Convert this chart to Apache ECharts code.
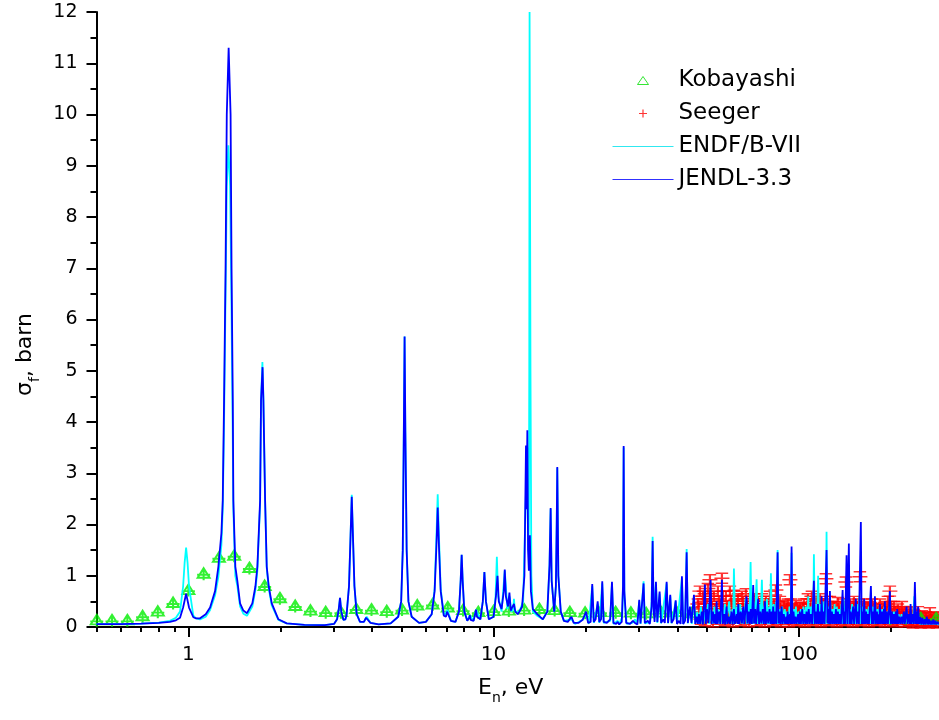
<!DOCTYPE html>
<html>
<head>
<meta charset="utf-8">
<script src="https://cdn.jsdelivr.net/npm/echarts@6/dist/echarts.min.js"></script>
<style>
  html, body { margin: 0; padding: 0; background: #fff; }
  #chart { width: 939px; height: 720px; }
</style>
</head>
<body>
<div id="chart"></div>
<script>
  // axis ticks
  const xMajorTicks = [1, 10, 100];
  const xMinorTicks = [0.5, 0.6, 0.7, 0.8, 0.9, 2, 3, 4, 5, 6, 7, 8, 9, 20, 30, 40, 50, 60, 70, 80, 90, 200];

  // Kobayashi: [E (eV), sigma_f (barn)]
  const kobayashi = [
    [0.501, 0.12], [0.562, 0.12], [0.631, 0.12], [0.708, 0.2], [0.794, 0.29], [0.891, 0.46],
    [1.0, 0.71], [1.122, 1.03], [1.259, 1.34], [1.413, 1.38], [1.585, 1.14], [1.778, 0.79],
    [1.995, 0.55], [2.239, 0.4], [2.512, 0.31], [2.818, 0.28], [3.162, 0.28], [3.548, 0.34],
    [3.981, 0.33], [4.467, 0.3], [5.012, 0.33], [5.623, 0.41], [6.31, 0.43], [7.079, 0.37],
    [7.943, 0.32], [8.913, 0.28], [10.0, 0.3], [11.22, 0.31], [12.59, 0.33], [14.13, 0.34],
    [15.85, 0.32], [17.78, 0.28], [19.95, 0.27], [22.39, 0.28], [25.12, 0.28], [28.18, 0.27],
    [31.62, 0.26], [35.48, 0.27], [39.81, 0.28], [44.67, 0.26], [50.12, 0.24], [56.23, 0.21],
    [63.1, 0.2], [70.79, 0.19], [79.43, 0.18], [89.13, 0.18], [100.0, 0.17], [112.2, 0.17],
    [125.9, 0.17], [141.3, 0.17], [158.5, 0.17], [177.8, 0.17], [199.5, 0.16], [223.9, 0.16],
    [251.2, 0.16], [281.8, 0.16]
  ];

  // Seeger: [E (eV), sigma_f (barn)]
  const seeger = [
    [46.72, 0.45], [47.43, 0.7], [47.8, 0.15], [48.15, 0.3], [48.88, 0.55], [49.26, 0.12], [49.63, 0.2],
    [50.38, 0.75], [50.76, 0.18], [51.15, 0.92], [51.92, 0.4], [52.3, 0.1], [52.71, 0.6], [53.5, 0.25],
    [53.9, 0.15], [54.33, 0.7], [55.15, 0.45], [55.6, 0.2], [56.0, 0.95], [56.84, 0.35], [57.3, 0.12],
    [57.71, 0.6], [58.59, 0.2], [59.0, 0.15], [59.47, 0.7], [60.38, 0.4], [60.8, 0.1], [61.29, 0.62],
    [62.23, 0.3], [62.7, 0.2], [63.17, 0.55], [64.13, 0.18], [64.6, 0.12], [65.1, 0.6], [66.1, 0.35],
    [66.6, 0.15], [67.09, 0.65], [68.12, 0.25], [68.6, 0.1], [69.15, 0.5], [70.21, 0.3], [70.7, 0.18],
    [71.29, 0.55], [72.36, 0.2], [72.9, 0.12], [73.46, 0.5], [74.58, 0.35], [75.1, 0.15], [75.72, 0.55],
    [76.86, 0.25], [77.4, 0.1], [78.04, 0.5], [79.22, 0.3], [79.8, 0.16], [80.43, 0.6], [81.65, 0.2],
    [82.3, 0.12], [82.89, 0.45], [84.14, 0.72], [84.8, 0.15], [85.43, 0.3], [86.73, 0.5], [87.4, 0.1],
    [88.05, 0.2], [89.38, 0.42], [90.1, 0.14], [90.75, 0.3], [92.12, 0.45], [92.8, 0.1], [93.52, 0.92],
    [94.94, 0.35], [95.7, 0.15], [96.39, 0.25], [97.84, 0.42], [98.6, 0.12], [99.33, 0.2], [100.83, 0.38],
    [101.6, 0.14], [102.38, 0.3], [103.92, 0.45], [104.7, 0.1], [105.51, 0.2], [107.11, 0.55], [107.9, 0.15],
    [108.74, 0.35], [110.4, 0.6], [111.2, 0.12], [112.07, 0.25], [113.77, 0.5], [114.6, 0.15], [115.51, 0.3],
    [117.26, 0.55], [118.2, 0.1], [119.05, 0.2], [120.86, 0.45], [121.8, 0.14], [122.71, 0.94], [124.57, 0.35],
    [125.5, 0.12], [126.47, 0.5], [128.41, 0.22], [129.4, 0.15], [130.32, 0.4], [132.31, 0.3], [133.3, 0.1],
    [134.31, 0.48], [136.37, 0.2], [137.4, 0.14], [138.43, 0.4], [140.54, 0.3], [141.6, 0.12], [142.67, 0.88],
    [144.85, 0.25], [145.9, 0.15], [147.04, 0.45], [149.28, 0.3], [150.4, 0.1], [151.55, 0.5], [153.87, 0.2],
    [155.0, 0.14], [156.19, 0.4], [158.58, 0.98], [159.8, 0.12], [160.98, 0.3], [163.44, 0.45], [164.7, 0.15],
    [165.92, 0.2], [168.45, 0.4], [169.7, 0.1], [171.0, 0.3], [173.62, 0.45], [174.9, 0.14], [176.23, 0.2],
    [178.93, 0.35], [180.3, 0.12], [181.63, 0.25], [184.41, 0.45], [185.8, 0.15], [187.2, 0.2], [190.05, 0.38],
    [191.5, 0.1], [192.92, 0.3], [195.87, 0.5], [197.3, 0.14], [198.83, 0.7], [201.84, 0.25], [203.4, 0.12],
    [204.89, 0.4], [208.02, 0.2], [209.6, 0.1], [211.17, 0.35], [214.39, 0.25], [216.0, 0.14], [217.63, 0.4],
    [220.96, 0.18], [222.6, 0.1], [224.33, 0.3], [227.72, 0.15], [229.5, 0.12], [231.21, 0.28], [234.7, 0.12],
    [236.5, 0.08], [238.28, 0.25], [241.88, 0.15], [243.7, 0.12], [245.58, 0.3], [249.29, 0.12], [251.2, 0.08],
    [253.11, 0.22], [256.93, 0.1], [258.9, 0.12], [260.86, 0.2], [264.8, 0.12], [266.8, 0.08], [268.85, 0.28],
    [272.9, 0.1], [275.0, 0.12], [277.08, 0.2], [281.27, 0.12], [283.4, 0.08], [285.56, 0.18],
    [47.08, 0.38], [48.52, 0.6], [50.0, 0.45], [51.53, 0.55], [53.11, 0.35], [54.73, 0.5], [56.41, 0.6],
    [58.13, 0.4], [59.91, 0.5], [61.75, 0.45], [63.64, 0.35], [65.59, 0.5], [67.61, 0.4], [69.67, 0.35],
    [71.81, 0.42], [74.01, 0.3], [76.28, 0.4], [78.61, 0.38], [81.02, 0.45], [83.5, 0.35], [86.05, 0.4],
    [88.69, 0.32], [91.41, 0.38], [94.21, 0.45], [97.1, 0.32], [100.07, 0.3], [103.13, 0.38], [106.29, 0.35],
    [109.55, 0.45], [112.9, 0.4], [116.36, 0.42], [119.93, 0.35], [123.6, 0.5], [127.39, 0.38], [131.29, 0.35],
    [135.31, 0.32], [139.46, 0.45], [143.73, 0.4], [148.13, 0.35], [152.67, 0.38], [157.35, 0.45], [162.17, 0.38],
    [167.13, 0.32], [172.25, 0.38], [177.53, 0.3], [182.97, 0.32], [188.57, 0.28], [194.35, 0.35], [200.3, 0.4],
    [206.44, 0.3], [212.76, 0.28], [219.28, 0.25], [225.99, 0.22], [232.92, 0.2], [240.05, 0.22], [247.4, 0.18],
    [254.98, 0.16], [262.79, 0.15], [270.84, 0.18], [279.13, 0.14]
  ];

  // ENDF/B-VII: [E (eV), sigma_f (barn)]
  const endf = [
    [0.5, 0.055], [0.6, 0.058], [0.7, 0.066], [0.8, 0.085], [0.87, 0.12], [0.91, 0.18], [0.939, 0.3],
    [0.961, 0.79], [0.972, 1.25], [0.983, 1.55], [0.994, 1.25], [1.005, 0.79], [1.038, 0.22], [1.06, 0.17],
    [1.092, 0.15], [1.14, 0.2], [1.178, 0.33], [1.223, 0.62], [1.254, 0.98], [1.283, 1.6], [1.296, 2.3],
    [1.309, 4.0], [1.324, 6.5], [1.336, 8.6], [1.352, 9.4], [1.37, 8.6], [1.383, 6.5], [1.396, 4.0],
    [1.404, 2.3], [1.425, 1.0], [1.447, 0.8], [1.477, 0.4], [1.514, 0.26], [1.556, 0.22], [1.62, 0.4],
    [1.658, 0.72], [1.683, 1.1], [1.718, 2.4], [1.73, 4.42], [1.748, 5.17], [1.761, 4.5], [1.784, 2.47],
    [1.806, 1.15], [1.834, 0.75], [1.876, 0.42], [1.972, 0.14], [2.1, 0.07], [2.4, 0.04], [2.8, 0.035],
    [3.0, 0.06], [3.07, 0.15], [3.11, 0.35], [3.139, 0.57], [3.17, 0.3], [3.22, 0.14], [3.27, 0.15],
    [3.3, 0.25], [3.36, 0.8], [3.4, 1.8], [3.43, 2.58], [3.46, 1.8], [3.5, 0.8], [3.56, 0.25], [3.65, 0.1],
    [3.76, 0.1], [3.84, 0.2], [3.95, 0.08], [4.2, 0.05], [4.6, 0.07], [4.87, 0.2], [4.98, 0.5], [5.04, 1.5],
    [5.08, 3.8], [5.11, 5.67], [5.14, 3.8], [5.19, 1.5], [5.26, 0.5], [5.39, 0.2], [5.7, 0.08], [6.0, 0.1],
    [6.27, 0.25], [6.41, 0.75], [6.5, 1.8], [6.56, 2.59], [6.62, 1.8], [6.71, 0.75], [6.87, 0.22],
    [7.07, 0.33], [7.25, 0.12], [7.5, 0.1], [7.7, 0.3], [7.8, 0.9], [7.86, 1.41], [7.92, 0.9], [8.02, 0.3],
    [8.2, 0.12], [8.36, 0.23], [8.6, 0.12], [8.76, 0.34], [9.05, 0.15], [9.22, 0.5], [9.33, 1.07],
    [9.44, 0.5], [9.65, 0.15], [10.0, 0.2], [10.15, 0.6], [10.25, 1.37], [10.35, 0.6], [10.62, 0.3],
    [10.88, 1.1], [11.1, 0.35], [11.27, 0.6], [11.45, 0.3], [11.6, 0.35], [11.66, 0.55], [11.75, 0.3],
    [12.15, 0.3], [12.5, 0.5], [12.75, 2.5], [12.9, 3.5], [13.0, 1.5], [13.05, 2.0], [13.09, 5.0],
    [13.12, 12], [13.18, 12], [13.21, 5.0], [13.3, 1.0], [13.45, 0.3], [13.9, 0.22], [14.5, 0.15],
    [15.0, 0.3], [15.25, 1.2], [15.38, 2.3], [15.5, 0.9], [15.8, 0.3], [16.0, 0.8], [16.1, 2.0],
    [16.17, 3.1], [16.3, 1.0], [16.6, 0.3], [17.0, 0.12], [18.0, 0.15], [18.5, 0.06], [19.58, 0.14],
    [20.1, 0.25], [20.5, 0.06], [21.05, 0.8], [21.3, 0.08], [21.93, 0.45], [22.2, 0.08], [22.7, 0.85],
    [22.95, 0.08], [24.1, 0.12], [24.43, 0.85], [24.7, 0.06], [25.5, 0.12], [25.8, 0.05], [26.4, 0.2],
    [26.55, 0.8], [26.68, 3.5], [26.82, 0.6], [27.3, 0.06], [28.5, 0.08], [29.05, 0.15], [29.5, 0.05],
    [30.01, 0.5], [30.3, 0.06], [31.01, 0.89], [31.3, 0.07], [32.6, 0.1], [32.95, 0.5], [33.2, 1.76],
    [33.45, 0.25], [34.04, 0.85], [34.4, 0.08], [34.99, 0.65], [35.4, 0.07], [36.9, 0.85], [37.3, 0.07],
    [37.92, 0.6], [38.3, 0.07], [39.5, 0.5], [39.9, 0.06], [41.41, 0.95], [41.8, 0.06], [42.5, 0.2],
    [42.91, 1.52], [43.3, 0.07], [44.0, 0.35], [44.6, 0.06], [45.34, 0.6], [45.8, 0.06], [46.5, 0.3],
    [47.0, 0.06], [47.8, 0.4], [48.3, 0.06], [49.0, 0.3], [49.5, 0.06], [50.4, 0.45], [50.9, 0.06],
    [51.7, 0.35], [52.2, 0.06], [52.9, 0.4], [53.4, 0.06], [54.5, 0.35], [55.0, 0.06], [55.6, 0.4],
    [56.2, 0.06], [57.3, 0.45], [57.8, 0.06], [59.16, 0.5], [59.8, 0.06], [60.6, 0.35], [60.9, 0.06],
    [61.3, 1.14], [61.9, 0.06], [62.7, 0.4], [63.3, 0.06], [64.3, 0.45], [64.9, 0.06], [65.5, 0.35],
    [66.2, 0.06], [66.9, 0.55], [67.6, 0.06], [68.3, 0.45], [68.9, 0.06], [69.52, 1.27], [70.1, 0.06],
    [71.0, 0.5], [71.7, 0.06], [72.74, 0.93], [73.3, 0.06], [74.2, 0.45], [74.9, 0.06], [75.7, 0.92],
    [76.3, 0.06], [77.0, 0.4], [77.8, 0.06], [78.6, 0.55], [79.3, 0.06], [80.0, 0.4], [80.5, 0.06],
    [81.03, 1.05], [81.7, 0.06], [82.8, 0.45], [83.5, 0.06], [84.3, 0.5], [84.8, 0.06], [85.23, 1.5],
    [85.9, 0.06], [86.8, 0.35], [87.5, 0.06], [88.3, 0.4], [89.0, 0.06], [90.0, 0.35], [90.8, 0.06],
    [91.5, 0.3], [92.3, 0.06], [93.2, 0.4], [94.0, 0.06], [94.7, 1.45], [95.4, 0.06], [96.5, 0.35],
    [97.2, 0.06], [97.84, 0.4], [98.6, 0.06], [99.8, 0.3], [100.6, 0.06], [101.5, 0.35], [102.3, 0.06],
    [103.5, 0.4], [104.3, 0.06], [105.5, 0.4], [106.3, 0.06], [107.4, 0.6], [108.2, 0.06], [109.3, 0.4],
    [110.2, 0.06], [111.0, 0.5], [111.5, 0.06], [112.07, 1.42], [112.9, 0.06], [113.6, 0.45], [114.6, 0.06],
    [115.7, 1.0], [116.6, 0.06], [117.5, 0.45], [118.4, 0.06], [119.2, 0.5], [120.0, 0.06], [121.2, 0.5],
    [122.0, 0.06], [122.9, 0.8], [123.3, 1.86], [124.0, 0.06], [125.0, 0.4], [125.8, 0.06], [126.8, 0.5],
    [127.8, 0.06], [129.0, 0.35], [130.0, 0.06], [131.0, 0.45], [132.0, 0.06], [133.2, 0.4], [134.2, 0.06],
    [135.5, 0.35], [136.5, 0.06], [138.0, 0.45], [139.0, 0.06], [140.3, 0.55], [141.3, 0.06], [142.2, 0.4],
    [143.2, 0.06], [144.4, 0.5], [145.4, 0.06], [146.8, 0.35], [148.0, 0.06], [149.5, 0.45], [150.7, 0.06],
    [152.2, 0.4], [153.4, 0.06], [155.0, 0.45], [156.3, 0.06], [158.0, 0.6], [159.3, 0.06], [161.0, 0.4],
    [162.2, 0.06], [163.5, 0.45], [164.8, 0.06], [166.5, 0.35], [167.8, 0.06], [169.5, 0.4], [170.8, 0.06],
    [171.8, 0.55], [173.0, 0.06], [175.0, 0.4], [176.3, 0.06], [178.0, 0.45], [179.4, 0.06], [181.0, 0.35],
    [182.4, 0.06], [184.0, 0.4], [185.5, 0.06], [187.5, 0.35], [189.0, 0.06], [190.6, 0.4], [192.2, 0.06],
    [194.0, 0.3], [195.6, 0.06], [197.5, 0.4], [199.2, 0.06], [201.0, 0.3], [202.6, 0.06], [205.0, 0.3],
    [206.8, 0.06], [208.8, 0.3], [210.5, 0.06], [212.5, 0.25], [214.3, 0.06], [217.1, 0.25], [219.0, 0.06],
    [221.5, 0.2], [223.4, 0.06], [225.8, 0.3], [227.6, 0.06], [230.0, 0.2], [232.0, 0.06], [234.5, 0.25],
    [236.5, 0.06], [239.0, 0.6], [241.0, 0.06], [243.0, 0.3], [245.0, 0.06], [247.5, 0.2], [249.6, 0.05],
    [252.0, 0.15], [254.3, 0.05], [257.0, 0.15], [259.3, 0.05], [261.6, 0.12], [264.0, 0.05], [266.5, 0.12],
    [268.8, 0.05], [271.5, 0.1], [274.0, 0.05], [276.5, 0.1], [279.0, 0.05], [281.5, 0.1], [284.0, 0.05],
    [288.0, 0.05]
  ];

  // JENDL-3.3: [E (eV), sigma_f (barn)]
  const jendl = [
    [0.5, 0.055], [0.6, 0.058], [0.7, 0.065], [0.8, 0.08], [0.87, 0.1], [0.91, 0.13], [0.939, 0.18],
    [0.961, 0.38], [0.983, 0.65], [1.005, 0.38], [1.038, 0.19], [1.06, 0.17], [1.092, 0.17], [1.14, 0.25],
    [1.178, 0.38], [1.223, 0.7], [1.254, 1.18], [1.283, 1.83], [1.296, 2.47], [1.309, 4.42], [1.324, 7.0],
    [1.336, 10.0], [1.355, 11.3], [1.375, 10.0], [1.385, 7.0], [1.398, 4.42], [1.404, 2.47], [1.425, 1.18],
    [1.447, 0.9], [1.477, 0.46], [1.514, 0.32], [1.556, 0.27], [1.62, 0.46], [1.658, 0.79], [1.683, 1.18],
    [1.718, 2.47], [1.73, 4.42], [1.75, 5.07], [1.761, 4.42], [1.784, 2.47], [1.806, 1.18], [1.834, 0.79],
    [1.876, 0.46], [1.972, 0.15], [2.1, 0.07], [2.4, 0.04], [2.8, 0.035], [3.0, 0.06], [3.07, 0.15],
    [3.11, 0.35], [3.139, 0.57], [3.17, 0.3], [3.22, 0.14], [3.27, 0.15], [3.3, 0.25], [3.36, 0.8],
    [3.4, 1.8], [3.43, 2.54], [3.46, 1.8], [3.5, 0.8], [3.56, 0.25], [3.65, 0.1], [3.76, 0.1], [3.82, 0.18],
    [3.84, 0.2], [3.87, 0.17], [3.95, 0.08], [4.2, 0.05], [4.6, 0.07], [4.87, 0.2], [4.98, 0.5], [5.04, 1.5],
    [5.08, 3.8], [5.11, 5.67], [5.14, 3.8], [5.19, 1.5], [5.26, 0.5], [5.39, 0.2], [5.7, 0.08], [6.0, 0.1],
    [6.27, 0.25], [6.41, 0.7], [6.5, 1.6], [6.56, 2.33], [6.62, 1.6], [6.71, 0.7], [6.87, 0.22], [6.98, 0.2],
    [7.04, 0.3], [7.07, 0.33], [7.11, 0.28], [7.25, 0.12], [7.5, 0.1], [7.7, 0.3], [7.8, 0.9], [7.86, 1.41],
    [7.92, 0.9], [8.02, 0.3], [8.2, 0.12], [8.32, 0.18], [8.36, 0.23], [8.41, 0.14], [8.6, 0.12], [8.72, 0.28],
    [8.76, 0.34], [8.82, 0.2], [9.05, 0.15], [9.22, 0.5], [9.33, 1.07], [9.44, 0.5], [9.65, 0.15], [10.0, 0.2],
    [10.18, 0.6], [10.3, 1.0], [10.4, 0.5], [10.62, 0.35], [10.8, 0.7], [10.88, 1.12], [10.97, 0.6],
    [11.15, 0.4], [11.27, 0.67], [11.38, 0.32], [11.55, 0.3], [11.66, 0.45], [11.78, 0.3], [12.0, 0.25],
    [12.15, 0.3], [12.4, 0.4], [12.62, 1.0], [12.77, 3.54], [12.83, 2.3], [12.9, 3.84], [12.97, 1.5],
    [13.05, 1.1], [13.15, 1.79], [13.25, 0.7], [13.45, 0.35], [13.9, 0.25], [14.5, 0.15], [15.0, 0.3],
    [15.25, 1.2], [15.38, 2.32], [15.5, 0.9], [15.8, 0.3], [16.0, 0.8], [16.1, 2.0], [16.17, 3.12],
    [16.3, 1.0], [16.6, 0.3], [17.0, 0.12], [17.5, 0.1], [18.0, 0.2], [18.3, 0.08], [19.0, 0.08],
    [19.58, 0.14], [20.1, 0.3], [20.4, 0.08], [20.8, 0.1], [21.05, 0.84], [21.3, 0.1], [21.6, 0.15],
    [21.93, 0.5], [22.2, 0.1], [22.5, 0.15], [22.7, 0.89], [22.95, 0.1], [23.5, 0.08], [24.1, 0.15],
    [24.43, 0.88], [24.7, 0.08], [25.2, 0.06], [25.5, 0.1], [25.8, 0.05], [26.3, 0.1], [26.55, 0.8],
    [26.68, 3.53], [26.82, 0.7], [27.2, 0.08], [28.0, 0.06], [28.6, 0.12], [29.05, 0.08], [29.6, 0.05],
    [30.01, 0.53], [30.3, 0.07], [30.7, 0.1], [31.01, 0.85], [31.3, 0.08], [32.0, 0.12], [32.5, 0.06],
    [32.95, 0.4], [33.2, 1.68], [33.45, 0.3], [33.7, 0.1], [34.04, 0.88], [34.4, 0.1], [34.99, 0.69],
    [35.4, 0.08], [36.0, 0.15], [36.4, 0.08], [36.9, 0.88], [37.3, 0.08], [37.92, 0.63], [38.3, 0.08],
    [38.9, 0.15], [39.5, 0.52], [39.9, 0.06], [40.5, 0.12], [41.0, 0.06], [41.41, 0.99], [41.8, 0.06],
    [42.4, 0.12], [42.91, 1.46], [43.3, 0.08], [43.99, 0.4], [44.5, 0.08], [45.34, 0.63], [45.8, 0.06],
    [46.3, 0.2], [46.7, 0.06], [47.08, 0.25], [47.5, 0.06], [48.1, 0.3], [48.5, 0.05], [49.26, 0.83],
    [49.6, 0.06], [50.0, 0.35], [50.6, 0.08], [51.42, 0.92], [51.8, 0.06], [52.3, 0.3], [52.8, 0.07],
    [53.2, 0.25], [53.5, 0.06], [53.8, 0.5], [54.2, 0.06], [54.8, 0.3], [55.3, 0.06], [56.0, 0.92],
    [56.4, 0.06], [57.0, 0.25], [57.4, 0.05], [58.0, 0.4], [58.4, 0.06], [59.0, 0.2], [59.5, 0.06],
    [60.2, 0.3], [60.7, 0.05], [61.3, 0.35], [61.8, 0.06], [62.6, 0.25], [63.0, 0.06], [63.32, 0.45],
    [63.8, 0.06], [64.5, 0.3], [65.1, 0.07], [65.76, 0.4], [66.3, 0.06], [67.45, 0.6], [67.9, 0.07],
    [68.5, 0.3], [69.1, 0.06], [69.6, 0.35], [70.2, 0.06], [70.9, 0.82], [71.4, 0.07], [72.0, 0.35],
    [72.5, 0.06], [73.62, 0.55], [74.1, 0.06], [74.8, 0.3], [75.4, 0.07], [76.2, 0.35], [76.8, 0.06],
    [77.44, 0.5], [78.0, 0.06], [78.8, 0.3], [79.4, 0.07], [80.2, 0.35], [80.8, 0.06], [81.5, 0.3],
    [82.0, 0.06], [82.44, 0.4], [83.0, 0.06], [83.7, 0.3], [84.3, 0.06], [85.23, 1.46], [85.8, 0.07],
    [86.5, 0.3], [87.1, 0.06], [87.84, 0.4], [88.5, 0.06], [89.3, 0.25], [90.2, 0.06], [91.0, 0.2],
    [91.4, 0.06], [91.9, 0.3], [92.6, 0.06], [93.5, 0.25], [94.1, 0.06], [94.7, 1.57], [95.3, 0.06],
    [96.1, 0.3], [96.8, 0.06], [97.6, 0.2], [98.4, 0.06], [99.5, 0.25], [100.2, 0.06], [100.8, 0.3],
    [101.6, 0.06], [102.6, 0.35], [103.4, 0.06], [104.3, 0.25], [105.2, 0.06], [106.0, 0.3], [106.8, 0.06],
    [107.8, 0.35], [108.6, 0.06], [109.5, 0.25], [110.6, 0.06], [112.07, 0.9], [112.8, 0.06], [113.8, 0.3],
    [114.6, 0.06], [115.51, 0.45], [116.3, 0.06], [117.3, 0.3], [118.1, 0.06], [118.8, 0.6], [119.6, 0.06],
    [120.5, 0.3], [121.5, 0.06], [123.3, 1.5], [124.2, 0.07], [125.2, 0.35], [125.8, 0.06], [126.47, 0.7],
    [127.3, 0.06], [128.4, 0.3], [129.3, 0.06], [130.3, 0.25], [131.3, 0.06], [132.3, 0.35], [133.3, 0.06],
    [134.3, 0.3], [135.4, 0.06], [136.4, 0.25], [137.4, 0.06], [139.2, 0.72], [140.1, 0.06], [141.0, 0.3],
    [141.9, 0.06], [143.4, 1.4], [144.3, 0.06], [145.9, 1.63], [146.8, 0.06], [147.8, 0.3], [148.9, 0.06],
    [150.7, 0.4], [151.8, 0.06], [153.8, 0.55], [154.9, 0.06], [156.2, 0.3], [157.4, 0.06], [159.7, 2.05],
    [160.7, 0.06], [161.9, 0.3], [162.8, 0.06], [163.8, 0.55], [164.9, 0.06], [166.2, 0.3], [167.4, 0.06],
    [168.5, 0.25], [169.8, 0.06], [172.3, 0.8], [173.5, 0.06], [174.8, 0.3], [176.0, 0.06], [177.6, 0.6],
    [178.9, 0.06], [180.3, 0.3], [181.6, 0.06], [182.9, 0.25], [183.6, 0.06], [184.4, 0.45], [185.8, 0.06],
    [187.2, 0.3], [188.6, 0.06], [190.05, 0.35], [190.7, 0.06], [191.4, 0.5], [192.9, 0.06], [194.4, 0.3],
    [195.9, 0.06], [197.2, 0.25], [198.8, 0.7], [200.3, 0.06], [201.8, 0.3], [203.3, 0.06], [204.9, 0.25],
    [206.5, 0.06], [208.0, 0.3], [209.0, 0.06], [210.1, 0.35], [211.7, 0.06], [213.5, 0.2], [215.2, 0.06],
    [217.1, 0.2], [218.9, 0.06], [220.9, 0.3], [222.6, 0.06], [225.5, 0.4], [227.2, 0.06], [229.3, 0.25],
    [231.2, 0.06], [232.4, 0.45], [234.2, 0.06], [236.2, 0.25], [238.3, 0.06], [240.1, 0.88], [241.9, 0.06],
    [243.8, 0.3], [245.0, 0.06], [246.1, 0.4], [247.8, 0.06], [249.8, 0.2], [251.8, 0.05], [253.9, 0.18],
    [256.0, 0.05], [258.2, 0.15], [260.4, 0.05], [262.6, 0.2], [264.8, 0.05], [267.0, 0.15], [269.2, 0.05],
    [271.4, 0.12], [273.6, 0.05], [275.8, 0.15], [278.0, 0.05], [280.3, 0.12], [282.6, 0.05], [285.0, 0.1],
    [288.0, 0.05]
  ];

  const font = 'DejaVu Sans';

  let chart = echarts.init(document.getElementById('chart'));

  chart.setOption({
    animation: false,
    backgroundColor: '#ffffff',
    textStyle: { fontFamily: font, color: '#000' },
    grid: { left: 96.5, right: 0, top: 12, bottom: 93, containLabel: false },
    legend: {
      orient: 'vertical',
      left: 607,
      top: 64,
      itemWidth: 61,
      itemHeight: 8,
      itemGap: 10,
      selectedMode: false,
      textStyle: { fontFamily: font, fontSize: 23, color: '#000', lineHeight: 23 },
      data: [
        {
          name: 'Kobayashi',
          icon: 'path://M0,8L5.5,0L11,8Z',
          itemStyle: { color: 'rgba(0,0,0,0)', borderColor: '#00e000', borderWidth: 1 }
        },
        {
          name: 'Seeger',
          icon: 'path://M3.4,0L4.6,0L4.6,3.4L8,3.4L8,4.6L4.6,4.6L4.6,8L3.4,8L3.4,4.6L0,4.6L0,3.4L3.4,3.4Z',
          itemStyle: { color: '#ff0000', borderWidth: 0 }
        },
        { name: 'ENDF/B-VII', lineStyle: { width: 1, color: '#30e8f0' }, itemStyle: { opacity: 0 } },
        { name: 'JENDL-3.3', lineStyle: { width: 1, color: '#3030ff' }, itemStyle: { opacity: 0 } }
      ]
    },
    xAxis: [{
      type: 'log',
      logBase: 10,
      min: 0.5,
      max: 288,
      position: 'bottom',
      axisLine: { show: true, lineStyle: { color: '#000', width: 2 } },
      axisTick: { show: true, customValues: xMajorTicks, length: 10, lineStyle: { color: '#000', width: 2 } },
      axisLabel: {
        customValues: xMajorTicks,
        margin: 18,
        color: '#000',
        formatter: function (v) {
          return '{t|' + Math.round(v) + '}';
        },
        rich: {
          t: { fontSize: 20, fontFamily: font, color: '#000' }
        }
      },
      splitLine: { show: false },
      name: '{a|E}{b|n}{a|, eV}',
      nameLocation: 'middle',
      nameGap: 50,
      nameTextStyle: {
        padding: [0, 14, 0, 0],
        rich: {
          a: { fontSize: 22, fontFamily: font, color: '#000', lineHeight: 28, verticalAlign: 'top' },
          b: { fontSize: 14, fontFamily: font, color: '#000', lineHeight: 15, verticalAlign: 'bottom' }
        }
      }
    }, {
      // minor ticks only
      type: 'log',
      logBase: 10,
      min: 0.5,
      max: 288,
      position: 'bottom',
      axisLine: { show: false },
      axisTick: { show: true, customValues: xMinorTicks, length: 5, lineStyle: { color: '#000', width: 2 } },
      axisLabel: { show: false },
      splitLine: { show: false }
    }],
    yAxis: {
      type: 'value',
      min: 0,
      max: 12,
      interval: 1,
      axisLine: { show: true, lineStyle: { color: '#000', width: 2 } },
      axisTick: { show: true, length: 10, lineStyle: { color: '#000', width: 2 } },
      minorTick: { show: true, splitNumber: 2, length: 6, lineStyle: { color: '#000', width: 2 } },
      axisLabel: { margin: 19, fontSize: 19, color: '#000', fontFamily: font },
      splitLine: { show: false },
      name: '{a|σ}{b|f}{a|, barn}',
      nameLocation: 'middle',
      nameRotate: 90,
      nameGap: 52,
      nameTextStyle: {
        padding: [0, 70, 0, 0],
        rich: {
          a: { fontSize: 22, fontFamily: font, color: '#000', lineHeight: 28, verticalAlign: 'top' },
          b: { fontSize: 14, fontFamily: font, color: '#000', lineHeight: 15, verticalAlign: 'bottom' }
        }
      }
    },
    series: [{
      name: 'ENDF/B-VII',
      type: 'line',
      data: endf,
      symbol: 'none',
      color: '#00ffff',
      lineStyle: { color: '#00ffff', width: 1.8 }
    }, {
      name: 'JENDL-3.3',
      type: 'line',
      data: jendl,
      symbol: 'none',
      color: '#0000ff',
      lineStyle: { color: '#0000ff', width: 1.8 }
    }, {
      name: 'Seeger',
      type: 'scatter',
      data: seeger,
      symbol: 'path://M1,0L11,0M0,4L12,4M1,8L11,8M6,0L6,8',
      symbolSize: [15, 10],
      itemStyle: { color: 'rgba(0,0,0,0)', borderColor: '#ff0000', borderWidth: 1.8 }
    }, {
      name: 'Kobayashi',
      type: 'scatter',
      data: kobayashi,
      symbol: 'path://M6,0L11.5,9.5L0.5,9.5Z M0,6.5L12,6.5 M6,0L6,12',
      symbolSize: [13, 12],
      itemStyle: { color: 'rgba(0,0,0,0)', borderColor: '#00ee00', borderWidth: 2 }
    }]
  });
</script>
</body>
</html>
